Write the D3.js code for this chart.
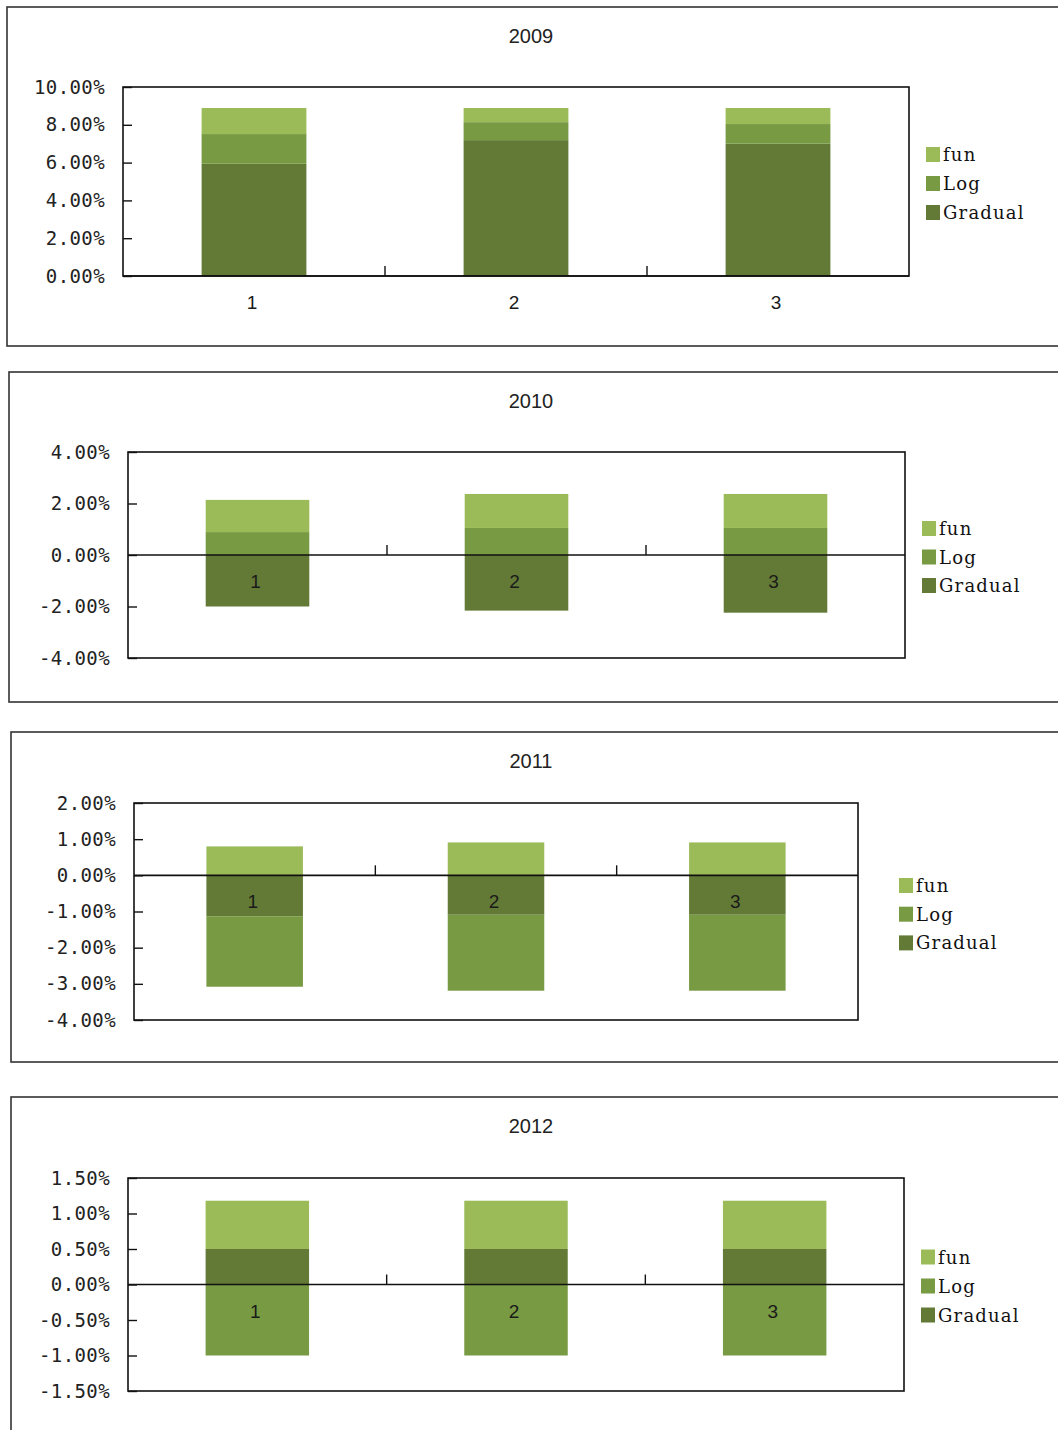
<!DOCTYPE html>
<html>
<head>
<meta charset="utf-8">
<script src="https://cdn.jsdelivr.net/npm/d3@7"></script>
<style>
  html, body { margin: 0; padding: 0; background: #fff; }
  svg { display: block; }
</style>
</head>
<body>
<svg id="chart" width="1058" height="1430"></svg>
<script>
// ---- data (percent) ----
const years = ["2009", "2010", "2011", "2012"];
const categories = ["1", "2", "3"];
const seriesNames = ["Gradual", "Log", "fun"];

const gradual2009 = [5.94, 7.19, 7.00];
const log2009     = [1.57, 0.95, 1.04];
const fun2009     = [1.38, 0.75, 0.85];

const gradual2010 = [-2.00, -2.16, -2.24];
const log2010     = [0.89, 1.05, 1.05];
const fun2010     = [1.25, 1.32, 1.32];

const gradual2011 = [-1.13, -1.09, -1.09];
const log2011     = [-1.95, -2.10, -2.10];
const fun2011     = [0.80, 0.91, 0.91];

const gradual2012 = [0.50, 0.50, 0.50];
const log2012     = [-1.00, -1.00, -1.00];
const fun2012     = [0.68, 0.68, 0.68];

const ticks2009 = [0, 2, 4, 6, 8, 10];
const ticks2010 = [-4, -2, 0, 2, 4];
const ticks2011 = [-4, -3, -2, -1, 0, 1, 2];
const ticks2012 = [-1.5, -1, -0.5, 0, 0.5, 1, 1.5];

// ---- styling / layout ----
const colors = { fun: "#9BBB59", Log: "#789A43", Gradual: "#637A36" };

const panels = [
  { year: years[0], g: gradual2009, l: log2009, f: fun2009, ticks: ticks2009,
    frame: { x: 7,  y: 7,    h: 339 }, plot: { l: 123, t: 87,   r: 909, b: 276 },
    legend: { x: 926, y: 147,  gap: 29 } },
  { year: years[1], g: gradual2010, l: log2010, f: fun2010, ticks: ticks2010,
    frame: { x: 9,  y: 372,  h: 330 }, plot: { l: 128, t: 452,  r: 905, b: 658 },
    legend: { x: 922, y: 521,  gap: 28.5 } },
  { year: years[2], g: gradual2011, l: log2011, f: fun2011, ticks: ticks2011,
    frame: { x: 11, y: 732,  h: 330 }, plot: { l: 134, t: 803,  r: 858, b: 1020 },
    legend: { x: 899, y: 878,  gap: 28.7 } },
  { year: years[3], g: gradual2012, l: log2012, f: fun2012, ticks: ticks2012,
    frame: { x: 11, y: 1097, h: 400 }, plot: { l: 128, t: 1178, r: 904, b: 1391 },
    legend: { x: 921, y: 1249.5, gap: 29 } }
];

const svg = d3.select("#chart");
const fmt = v => (v < 0 ? "-" : "") + Math.abs(v).toFixed(2) + "%";

panels.forEach(p => {
  const g = svg.append("g");

  // chart frame (runs off the right edge)
  g.append("rect")
    .attr("x", p.frame.x).attr("y", p.frame.y)
    .attr("width", 1100).attr("height", p.frame.h)
    .attr("fill", "#fff").attr("stroke", "#333").attr("stroke-width", 1.6);

  // title
  g.append("text")
    .attr("x", 531).attr("y", p.frame.y + 36)
    .attr("text-anchor", "middle")
    .attr("font-family", "Liberation Sans, Arial, sans-serif")
    .attr("font-size", 20).attr("fill", "#222")
    .text(p.year);

  const y = d3.scaleLinear()
    .domain(d3.extent(p.ticks))
    .range([p.plot.b, p.plot.t]);

  const xBar = d3.scaleBand()
    .domain(categories)
    .range([p.plot.l, p.plot.r])
    .paddingInner(0.6).paddingOuter(0.3);

  const xCat = d3.scaleBand()
    .domain(categories)
    .range([p.plot.l, p.plot.r])
    .padding(0);

  const rows = categories.map((c, i) => ({ cat: c, Gradual: p.g[i], Log: p.l[i], fun: p.f[i] }));
  const stacked = d3.stack().keys(seriesNames).offset(d3.stackOffsetDiverging)(rows);

  // plot area
  g.append("rect")
    .attr("x", p.plot.l).attr("y", p.plot.t)
    .attr("width", p.plot.r - p.plot.l).attr("height", p.plot.b - p.plot.t)
    .attr("fill", "#fff");

  // stacked bars
  g.append("g").selectAll("g")
    .data(stacked).join("g")
    .attr("fill", d => colors[d.key])
    .selectAll("rect")
    .data(d => d).join("rect")
    .attr("x", d => xBar(d.data.cat))
    .attr("width", xBar.bandwidth())
    .attr("y", d => y(Math.max(d[0], d[1])))
    .attr("height", d => Math.abs(y(d[0]) - y(d[1])));

  // plot border
  g.append("rect")
    .attr("x", p.plot.l).attr("y", p.plot.t)
    .attr("width", p.plot.r - p.plot.l).attr("height", p.plot.b - p.plot.t)
    .attr("fill", "none").attr("stroke", "#111").attr("stroke-width", 1.6);

  // value axis with inside ticks
  const yAxis = d3.axisLeft(y)
    .tickValues(p.ticks)
    .tickFormat(fmt)
    .tickSizeInner(-9).tickSizeOuter(0)
    .tickPadding(18);
  const ya = g.append("g")
    .attr("transform", `translate(${p.plot.l},0)`)
    .call(yAxis);
  ya.select(".domain").remove();
  ya.selectAll(".tick line").attr("stroke", "#111").attr("stroke-width", 1.4);
  ya.selectAll(".tick text")
    .attr("font-family", "DejaVu Sans Mono, monospace")
    .attr("font-size", 19)
    .attr("letter-spacing", 0.4)
    .attr("fill", "#222");

  // category axis line at zero
  const y0 = y(0);
  g.append("line")
    .attr("x1", p.plot.l).attr("x2", p.plot.r)
    .attr("y1", y0).attr("y2", y0)
    .attr("stroke", "#111").attr("stroke-width", 1.6);

  // category boundary ticks
  g.append("g").selectAll("line")
    .data(categories.slice(1)).join("line")
    .attr("x1", d => xCat(d)).attr("x2", d => xCat(d))
    .attr("y1", y0).attr("y2", y0 - 10)
    .attr("stroke", "#111").attr("stroke-width", 1.4);

  // category labels next to the axis
  g.append("g").selectAll("text")
    .data(categories).join("text")
    .attr("x", d => xCat(d) + xCat.bandwidth() / 2 - 2)
    .attr("y", y0 + 33)
    .attr("text-anchor", "middle")
    .attr("font-family", "Liberation Sans, Arial, sans-serif")
    .attr("font-size", 19)
    .attr("fill", "#1a1a1a")
    .text(d => d);

  // legend (top to bottom: fun, Log, Gradual)
  const legendItems = seriesNames.slice().reverse();
  const lg = g.append("g").selectAll("g")
    .data(legendItems).join("g")
    .attr("transform", (d, i) => `translate(${p.legend.x},${p.legend.y + i * p.legend.gap})`);
  lg.append("rect")
    .attr("width", 14).attr("height", 15)
    .attr("fill", d => colors[d]);
  lg.append("text")
    .attr("x", 17).attr("y", 14)
    .attr("font-family", "DejaVu Serif, serif")
    .attr("font-size", 18)
    .attr("letter-spacing", 1.2)
    .attr("fill", "#111")
    .text(d => d);
});
</script>
</body>
</html>
